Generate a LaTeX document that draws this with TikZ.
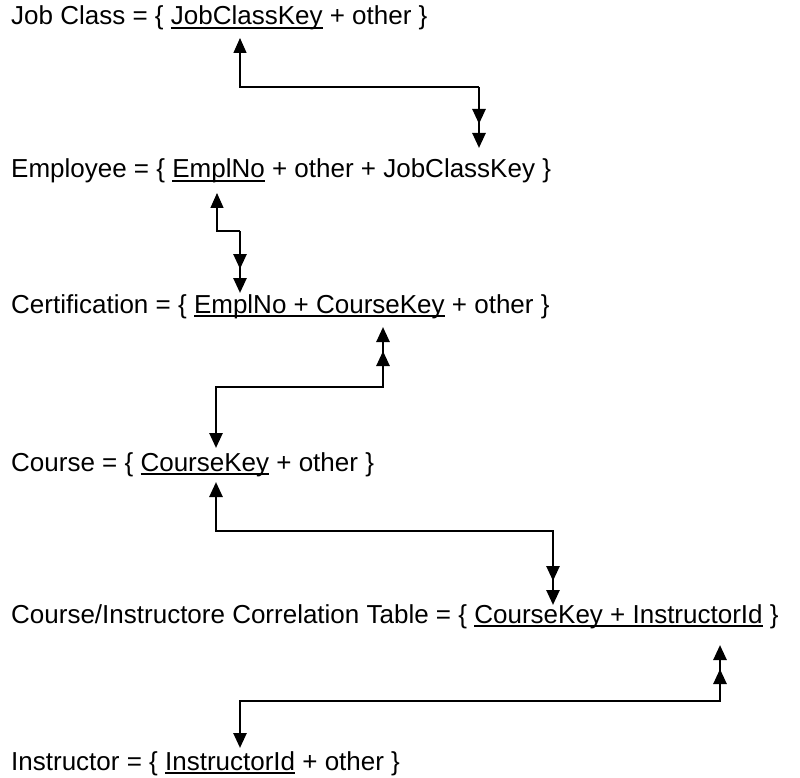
\documentclass[tikz,border=0pt]{standalone}
\usepackage{fontspec}
\setmainfont{Liberation Sans}
\usetikzlibrary{arrows.meta, positioning}

% underline the key attributes at a fixed depth
\newcommand{\keyul}[1]{\sbox0{#1}\rlap{\rule[-3.6pt]{\wd0}{1.5pt}}\usebox0}

\begin{document}
\begin{tikzpicture}[
    x=1pt, y=-1pt,
    relation/.style={inner sep=0pt, anchor=base west, font=\fontsize{26}{30}\selectfont},
    link/.style={line width=2.6pt, arrows={Triangle[length=15pt,width=13pt]-Triangle[length=15pt,width=13pt,sep=9pt]Triangle[length=15pt,width=13pt]}},
    linkstart/.style={line width=1.3pt, arrows={Triangle[length=15pt,width=13pt]-}},
    linkend/.style={line width=2.6pt, arrows={-Triangle[length=15pt,width=13pt,sep=9pt]Triangle[length=15pt,width=13pt]}}
]
    \useasboundingbox (0,0) rectangle (800,778);

    \node[relation] (jobclass) at (11,25) {Job Class = \{ \keyul{JobClassKey} + other \}};
    \node[relation, below=153pt of jobclass.base west, anchor=base west] (employee) {Employee = \{ \keyul{EmplNo} + other + JobClassKey \}};
    \node[relation, below=135pt of employee.base west, anchor=base west] (cert) {Certification = \{ \keyul{EmplNo + CourseKey} + other \}};
    \node[relation, below=158pt of cert.base west, anchor=base west] (course) {Course = \{ \keyul{CourseKey} + other \}};
    \node[relation, below=152pt of course.base west, anchor=base west] (corr) {Course/Instructore Correlation Table = \{ \keyul{CourseKey + InstructorId} \}};
    \node[relation, below=147pt of corr.base west, anchor=base west] (instr) {Instructor = \{ \keyul{InstructorId} + other \}};

    % ends of the connectors at the keys
    \coordinate (jobclass-key) at (240,38);
    \coordinate (employee-fk) at (479,148);
    \coordinate (employee-key) at (217,193);
    \coordinate (cert-fk) at (240,293);
    \coordinate (course-top) at (216,448);
    \coordinate (cert-ck) at (383,327);
    \coordinate (course-key) at (216,482);
    \coordinate (corr-ck) at (553,605);
    \coordinate (instr-top) at (240,748);
    \coordinate (corr-id) at (720,645);

    \path (jobclass-key) -- ++(0,49) coordinate (jc-turn) -| coordinate[pos=0.5] (jc-corner) (employee-fk);
    \draw[linkstart] (jobclass-key) -- (jc-turn) -- (jc-corner);
    \draw[linkend] (jc-corner) -- (employee-fk);

    \path (employee-key) -- ++(0,38) coordinate (emp-turn) -| coordinate[pos=0.5] (emp-corner) (cert-fk);
    \draw[linkstart] (employee-key) -- (emp-turn) -- (emp-corner);
    \draw[linkend] (emp-corner) -- (cert-fk);

    \draw[link] (course-top) -- ++(0,-61) -| (cert-ck);
    \draw[link] (course-key) -- ++(0,49) -| (corr-ck);
    \draw[link] (instr-top) -- ++(0,-47) -| (corr-id);
\end{tikzpicture}
\end{document}
